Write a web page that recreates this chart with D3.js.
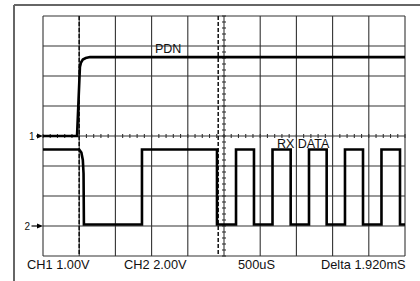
<!DOCTYPE html>
<html>
<head>
<meta charset="utf-8">
<script src="https://cdn.jsdelivr.net/npm/d3@7"></script>
<style>
  body { margin: 0; background: #fff; }
  text { font-family: "Liberation Sans", Arial, Helvetica, sans-serif; fill: #111; }
</style>
</head>
<body>
<div id="scope"></div>
<script>
// time base 500uS/div, 10 divs; 8 vertical divs
var timeRange = [0, 5000];
var divRange = [-4, 4];

// channel settings (volts per div, ground marker offset in divs)
var ch1Scale = 1, ch1Offset = 0;
var ch2Scale = 2, ch2Offset = -3;

// cursors (uS)
var cursorTimes = [500, 2420];

// PDN trace (CH1)
var pdnTimes = [0, 470, 510, 525, 550, 590, 650, 5000];
var pdnVolts = [0, 0, 2.30, 2.45, 2.55, 2.60, 2.63, 2.63];

// RX DATA trace (CH2)
var rxTimes = [0, 500, 530, 550, 560, 565, 1367, 1367, 2403, 2403, 2666, 2666, 2914, 2914,
  3170, 3170, 3421, 3421, 3674, 3674, 3918, 3918, 4171, 4171, 4420, 4420, 4675, 4675, 4931, 4931, 5000];
var rxVolts = [5.1, 5.1, 4.9, 4.4, 3.5, 0.1, 0.1, 5.1, 5.1, 0.1, 0.1, 5.1, 5.1, 0.1,
  0.1, 5.1, 5.1, 0.1, 0.1, 5.1, 5.1, 0.1, 0.1, 5.1, 5.1, 0.1, 0.1, 5.1, 5.1, 0.1, 0.1];

var traceLabels = ["PDN", "RX DATA"];
var footerLabels = ["CH1 1.00V", "CH2 2.00V", "500uS", "Delta 1.920mS"];

var width = 420, height = 281;

var svg = d3.select("#scope").append("svg")
    .attr("width", width)
    .attr("height", height);

var x = d3.scaleLinear().domain(timeRange).range([43, 405]);
var y = d3.scaleLinear().domain(divRange).range([256, 16]);

// outer frame
svg.append("line")
    .attr("x1", 14).attr("y1", 5).attr("x2", width).attr("y2", 5)
    .attr("stroke", "#666").attr("stroke-width", 2);
svg.append("line")
    .attr("x1", 14).attr("y1", 5).attr("x2", 14).attr("y2", height)
    .attr("stroke", "#666").attr("stroke-width", 2);

// grid
var grid = svg.append("g").attr("class", "grid")
    .attr("stroke", "#333").attr("stroke-width", 1.1);

grid.selectAll(".vline")
    .data(x.ticks(10).filter(function(t){ return t != 2500; }))
    .enter().append("line")
    .attr("x1", function(d){ return x(d); })
    .attr("x2", function(d){ return x(d); })
    .attr("y1", y(4)).attr("y2", y(-4));

grid.selectAll(".hline")
    .data(y.ticks(8))
    .enter().append("line")
    .attr("x1", x(0)).attr("x2", x(5000))
    .attr("y1", function(d){ return y(d); })
    .attr("y2", function(d){ return y(d); });

// center axes with minor ticks
grid.append("line")
    .attr("x1", x(2500)).attr("x2", x(2500))
    .attr("y1", y(4)).attr("y2", y(-4));

grid.selectAll(".xtick")
    .data(x.ticks(50))
    .enter().append("line")
    .attr("x1", function(d){ return x(d); })
    .attr("x2", function(d){ return x(d); })
    .attr("y1", y(0) - 2).attr("y2", y(0) + 2);

grid.selectAll(".ytick")
    .data(y.ticks(40))
    .enter().append("line")
    .attr("y1", function(d){ return y(d); })
    .attr("y2", function(d){ return y(d); })
    .attr("x1", x(2500) - 2).attr("x2", x(2500) + 2);

// cursors
svg.selectAll(".cursor")
    .data(cursorTimes)
    .enter().append("line")
    .attr("x1", function(d){ return x(d); })
    .attr("x2", function(d){ return x(d); })
    .attr("y1", y(4)).attr("y2", y(-4))
    .attr("stroke", "#111")
    .attr("stroke-width", 1.5)
    .attr("stroke-dasharray", "4,2");

// traces
var line = d3.line()
    .x(function(d){ return x(d.t); })
    .y(function(d){ return y(d.div); });

var pdnData = pdnTimes.map(function(t, i){
    return { t: t, div: ch1Offset + pdnVolts[i] / ch1Scale };
});
var rxData = rxTimes.map(function(t, i){
    return { t: t, div: ch2Offset + rxVolts[i] / ch2Scale };
});

[pdnData, rxData].forEach(function(data){
    svg.append("path")
        .datum(data)
        .attr("d", line)
        .attr("fill", "none")
        .attr("stroke", "#000")
        .attr("stroke-width", 2.6);
});

// trace labels
svg.append("text").text(traceLabels[0])
    .attr("x", 155).attr("y", 52.5)
    .attr("font-size", 12.5);
svg.append("text").text(traceLabels[1])
    .attr("x", 277).attr("y", 147.5)
    .attr("font-size", 12.5);

// ground markers
var markers = [{ label: "1", div: ch1Offset, lx: 29 }, { label: "2", div: ch2Offset, lx: 24.5 }];
markers.forEach(function(m){
    var yy = y(m.div);
    svg.append("text").text(m.label)
        .attr("x", m.lx).attr("y", yy + 3.5)
        .attr("font-size", 10);
    svg.append("line")
        .attr("x1", m.lx + 7).attr("x2", 38)
        .attr("y1", yy).attr("y2", yy)
        .attr("stroke", "#000").attr("stroke-width", 1.2);
    svg.append("path")
        .attr("d", "M37," + (yy - 2.5) + "L43," + yy + "L37," + (yy + 2.5) + "Z")
        .attr("fill", "#000");
});

// footer labels
var footerX = [27, 124, 238, 321];
svg.selectAll(".footer")
    .data(footerLabels)
    .enter().append("text")
    .text(function(d){ return d; })
    .attr("x", function(d, i){ return footerX[i]; })
    .attr("y", 268.5)
    .attr("font-size", 12.8);
</script>
</body>
</html>
